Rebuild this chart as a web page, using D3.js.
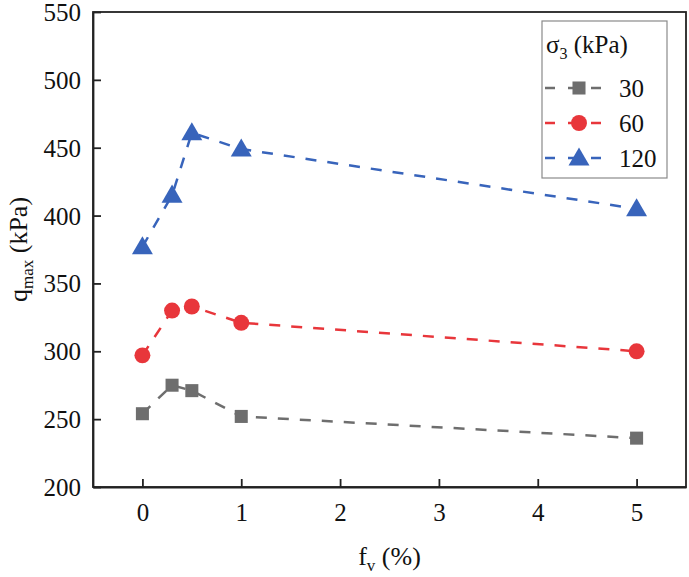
<!DOCTYPE html>
<html><head><meta charset="utf-8"><script src="https://cdn.jsdelivr.net/npm/d3@7"></script></head>
<body style="margin:0">
<svg id="s" width="689" height="577" style="font-family: 'Liberation Serif', Tinos, 'Times New Roman', serif"></svg>
<script>
// ---- data ----
const fv = [0, 0.3, 0.5, 1, 5];
const seriesNames = ["30", "60", "120"];
const q30 = [254, 275, 271, 252, 236];
const q60 = [297, 330, 333, 321, 300];
const q120 = [377, 415, 461, 449, 405];
const xTicks = [0, 1, 2, 3, 4, 5];
const yTicks = [200, 250, 300, 350, 400, 450, 500, 550];

const FONT = "'Liberation Serif', Tinos, 'Times New Roman', serif";
const colors = ["#6e6e6e", "#e8363b", "#3864bb"];
const shapes = [d3.symbolSquare, d3.symbolCircle, d3.symbolTriangle];
const sizes = [170, 200, 190];
const seriesValues = [q30, q60, q120];

const svg = d3.select("#s");
const m = { left: 93, top: 12, right: 686, bottom: 487 };
const x = d3.scaleLinear().domain([-0.5, 5.5]).range([m.left, m.right]);
const y = d3.scaleLinear().domain([200, 550]).range([m.bottom, m.top]);

// lines and markers
const line = d3.line().x((d, i) => x(fv[i])).y(d => y(d));
seriesValues.forEach((vals, s) => {
  svg.append("path").datum(vals).attr("d", line)
    .attr("fill", "none").attr("stroke", colors[s]).attr("stroke-width", 2.5)
    .attr("stroke-dasharray", "11,11");
  svg.selectAll(null).data(vals).enter().append("path")
    .attr("transform", (d, i) => `translate(${x(fv[i])},${y(d) + (s === 2 ? 1.5 : 0)})`)
    .attr("d", d3.symbol().type(shapes[s]).size(sizes[s]))
    .attr("fill", colors[s]);
});

// frame
svg.append("rect").attr("x", m.left).attr("y", m.top)
  .attr("width", m.right - m.left).attr("height", m.bottom - m.top)
  .attr("fill", "none").attr("stroke", "#222").attr("stroke-width", 1.8);

// axes
const xAxis = svg.append("g").attr("transform", `translate(0,${m.bottom})`)
  .call(d3.axisBottom(x).tickValues(xTicks).tickFormat(d3.format("d")).tickSizeInner(-8).tickSizeOuter(0).tickPadding(16));
const yAxis = svg.append("g").attr("transform", `translate(${m.left},0)`)
  .call(d3.axisLeft(y).tickValues(yTicks).tickFormat(d3.format("d")).tickSizeInner(-8).tickSizeOuter(0).tickPadding(12));
[xAxis, yAxis].forEach(a => {
  a.attr("font-family", null).attr("font-size", null);
  a.select(".domain").attr("stroke", "#222").attr("stroke-width", 1.8);
  a.selectAll(".tick line").attr("stroke", "#222").attr("stroke-width", 1.8);
  a.selectAll(".tick text").attr("fill", "#111").style("font-family", FONT).style("font-size", "25px");
});
xAxis.selectAll(".tick text").attr("dy", "0.71em");
yAxis.selectAll(".tick text").attr("dy", "0.34em");

// axis titles
const xt = svg.append("text").attr("x", x(2.5)).attr("y", 565)
  .attr("text-anchor", "middle").style("font-family", FONT).style("font-size", "26px").attr("fill", "#111");
xt.append("tspan").text("f");
xt.append("tspan").text("v").style("font-size", "17px").attr("dy", 6);
xt.append("tspan").text(" (%)").attr("dy", -6);

const yt = svg.append("text")
  .attr("transform", `translate(27,${(m.top + m.bottom) / 2}) rotate(-90)`)
  .attr("text-anchor", "middle").style("font-family", FONT).style("font-size", "26px").attr("fill", "#111");
yt.append("tspan").text("q");
yt.append("tspan").text("max").style("font-size", "17px").attr("dy", 6);
yt.append("tspan").text(" (kPa)").attr("dy", -6);

// legend
const lg = svg.append("g");
lg.append("rect").attr("x", 542).attr("y", 21).attr("width", 125).attr("height", 157)
  .attr("fill", "#fff").attr("stroke", "#8a8a8a").attr("stroke-width", 1.2);
const lt = lg.append("text").attr("x", 546).attr("y", 53).style("font-family", FONT).style("font-size", "25px").attr("fill", "#111");
lt.append("tspan").text("σ");
lt.append("tspan").text("3").style("font-size", "16px").attr("dy", 6);
lt.append("tspan").text(" (kPa)").attr("dy", -6);

const rowY = [88, 123, 158];
seriesNames.forEach((name, s) => {
  const g = lg.append("g").attr("transform", `translate(0,${rowY[s]})`);
  g.append("line").attr("x1", 545).attr("x2", 603).attr("y1", 0).attr("y2", 0)
    .attr("stroke", colors[s]).attr("stroke-width", 2.5).attr("stroke-dasharray", "10,13");
  g.append("path").attr("transform", `translate(579,${s === 2 ? 1.5 : 0})`)
    .attr("d", d3.symbol().type(shapes[s]).size(sizes[s])).attr("fill", colors[s]);
  g.append("text").attr("x", 619).attr("y", 9).style("font-family", FONT).style("font-size", "25px").attr("fill", "#111").text(name);
});
</script>
</body>
</html>
